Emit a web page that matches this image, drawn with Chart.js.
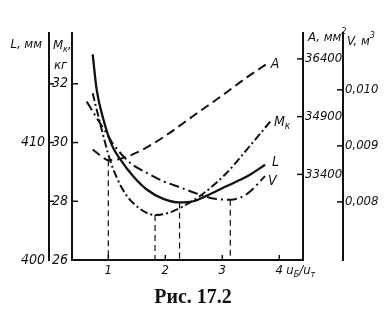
<!DOCTYPE html>
<html>
<head>
<meta charset="utf-8">
<script src="https://cdn.jsdelivr.net/npm/chart.js@4.4.1/dist/chart.umd.min.js"></script>
<style>
  html, body { margin: 0; padding: 0; background: #fff; }
</style>
</head>
<body>
<canvas id="myChart" width="386" height="323"></canvas>
<script>
// Ratio u_Б/u_т on the horizontal axis
const xTicks = [1, 2, 3, 4];

// A, мм² (dashed)
const xA = [0.726, 0.912, 1.0, 1.2, 1.4, 1.65, 2.0, 2.5, 3.0, 3.43, 3.78];
const valA = [34047, 33832, 33770, 33800, 33900, 34080, 34400, 34930, 35450, 35920, 36270];

// Mк, кг (dash-dot)
const xMk = [0.726, 0.884, 1.03, 1.15, 1.3, 1.55, 1.82, 2.08, 2.433, 2.61, 3.08, 3.43, 3.87];
const valMk = [31.68, 30.44, 29.4, 28.8, 28.25, 27.75, 27.53, 27.62, 27.96, 28.18, 28.97, 29.76, 30.78];

// L, мм (solid)
const xL = [0.726, 0.796, 0.912, 1.06, 1.205, 1.44, 1.674, 1.965, 2.25, 2.49, 2.784, 3.08, 3.43, 3.75];
const valL = [417.5, 414.5, 412.0, 409.8, 408.6, 407.1, 406.0, 405.2, 404.9, 405.0, 405.6, 406.3, 407.1, 408.1];

// V, м³ (dash-dot)
const xV = [0.621, 0.796, 0.942, 1.088, 1.38, 1.674, 1.965, 2.258, 2.61, 2.84, 3.14, 3.43, 3.75];
const valV = [0.00979, 0.00950, 0.00927, 0.00903, 0.00870, 0.00852, 0.00837, 0.00826, 0.00813, 0.00806, 0.00804, 0.00814, 0.00846];

// axis ticks
const mkTicks = [26, 28, 30, 32];
const lTicks = [400, 410];
const aTicks = [33400, 34900, 36400];
const vTicks = [0.008, 0.009, 0.010];

// axis ranges (all four vertical scales share the same height)
const xMin = 0.363, xMax = 4.416;
const mkMin = 26, mkMax = 33.73;
const lMin = 400, lMax = 419.32;
const aMin = 31176, aMax = 37072;
const vMin = 0.006964, vMax = 0.011014;

const ink = '#111';
const NARROW = "'Liberation Sans Narrow', 'DejaVu Sans Condensed', sans-serif";

function toPoints(xs, ys) {
    return xs.map((x, i) => ({ x: x, y: ys[i] }));
}

// vertical dashed line from the lowest point of a curve down to the axis
function dropLine(xs, ys, axisMin, axisId) {
    let k = 0;
    ys.forEach((v, i) => { if (v < ys[k]) k = i; });
    return {
        data: [{ x: xs[k], y: ys[k] }, { x: xs[k], y: axisMin }],
        yAxisID: axisId,
        borderColor: ink,
        borderWidth: 1.2,
        borderDash: [6, 4],
        pointRadius: 0,
        isDrop: true
    };
}

function curve(name, xs, ys, axisId, dash, width) {
    return {
        label: name,
        data: toPoints(xs, ys),
        yAxisID: axisId,
        borderColor: ink,
        borderWidth: width,
        borderDash: dash,
        pointRadius: 0,
        cubicInterpolationMode: 'monotone'
    };
}

const setTicks = list => scale => { scale.ticks = list.map(v => ({ value: v })); };
const fixWidth = w => scale => { scale.width = w; };

function yAxis(pos, weight, min, max, ticks, width, size, fmt) {
    return {
        type: 'linear',
        position: pos,
        weight: weight,
        min: min,
        max: max,
        afterBuildTicks: setTicks(ticks),
        afterFit: fixWidth(width),
        grid: { display: false, drawTicks: false, tickLength: 0 },
        border: { display: true, color: ink, width: 2 },
        ticks: {
            padding: pos === 'left' ? 4 : 2,
            color: ink,
            font: { family: NARROW, size: size, style: 'italic' },
            callback: fmt
        }
    };
}

// text with optional small sub/superscript parts: [[text, 'sub'|'sup'|'']]
function richText(ctx, parts, x, y, size, align) {
    const big = 'italic ' + size + 'px ' + NARROW;
    const small = 'italic ' + Math.round(size * 0.7) + 'px ' + NARROW;
    let total = 0;
    parts.forEach(p => { ctx.font = p[1] ? small : big; total += ctx.measureText(p[0]).width; });
    let cx = align === 'right' ? x - total : x;
    ctx.textAlign = 'left';
    ctx.textBaseline = 'middle';
    parts.forEach(p => {
        ctx.font = p[1] ? small : big;
        const dy = p[1] === 'sub' ? size * 0.3 : (p[1] === 'sup' ? -size * 0.45 : 0);
        ctx.fillText(p[0], cx, y + dy);
        cx += ctx.measureText(p[0]).width;
    });
}

const decorations = {
    id: 'decorations',
    afterDraw(chart) {
        const ctx = chart.ctx;
        const s = chart.scales;
        ctx.save();
        ctx.strokeStyle = ink;
        ctx.fillStyle = ink;
        ctx.lineWidth = 1.5;
        const seg = (x1, y1, x2, y2) => { ctx.beginPath(); ctx.moveTo(x1, y1); ctx.lineTo(x2, y2); ctx.stroke(); };

        // short tick marks pointing into the plot
        s.mk.ticks.forEach(t => {
            if (t.value === mkMin) return;
            const y = s.mk.getPixelForValue(t.value);
            seg(s.mk.right, y, s.mk.right + 6, y);
            seg(s.mk.left + 1, y, s.mk.left + 5, y);
        });
        s.a.ticks.forEach(t => {
            const y = s.a.getPixelForValue(t.value);
            seg(s.a.left - 6, y, s.a.left, y);
        });
        s.v.ticks.forEach(t => {
            const y = s.v.getPixelForValue(t.value);
            seg(s.v.left - 6, y, s.v.left, y);
        });
        s.x.ticks.forEach(t => {
            const x = s.x.getPixelForValue(t.value);
            seg(x, s.x.top, x, s.x.top - 5);
        });

        // axis titles
        richText(ctx, [['L, мм', '']], s.l.right - 7, 45, 13, 'right');
        richText(ctx, [['M', ''], ['к', 'sub'], [',', '']], s.mk.left + 4, 46, 13, 'left');
        richText(ctx, [['кг', '']], s.mk.left + 5, 66, 13, 'left');
        richText(ctx, [['A, мм', ''], ['2', 'sup']], s.a.left + 5, 38, 13, 'left');
        richText(ctx, [['V, м', ''], ['3', 'sup']], s.v.left + 4, 42, 13, 'left');

        const x4 = s.x.getPixelForValue(4);
        richText(ctx, [['u', ''], ['Б', 'sub'], ['/u', ''], ['т', 'sub']], x4 + 7, s.x.top + 11, 13, 'left');

        // curve names next to their right ends
        const names = {
            'A': [[['A', '']], 4, 0],
            'Mk': [[['M', ''], ['к', 'sub']], 2, 3],
            'L': [[['L', '']], 7, -2],
            'V': [[['V', '']], 3, 5]
        };
        chart.data.datasets.forEach((ds, i) => {
            if (ds.isDrop) return;
            const pts = chart.getDatasetMeta(i).data;
            const end = pts[pts.length - 1];
            const n = names[ds.label];
            richText(ctx, n[0], end.x + n[1], end.y + n[2], 14, 'left');
        });
        ctx.restore();
    }
};

const ctx = document.getElementById('myChart').getContext('2d');
const chart = new Chart(ctx, {
    type: 'line',
    data: {
        datasets: [
            curve('A', xA, valA, 'a', [9, 5], 2),
            curve('Mk', xMk, valMk, 'mk', [8, 3, 2, 3], 2),
            curve('L', xL, valL, 'l', [], 2.3),
            curve('V', xV, valV, 'v', [10, 4, 2, 4], 2),
            dropLine(xA, valA, aMin, 'a'),
            dropLine(xMk, valMk, mkMin, 'mk'),
            dropLine(xL, valL, lMin, 'l'),
            dropLine(xV, valV, vMin, 'v')
        ]
    },
    options: {
        responsive: false,
        animation: false,
        events: [],
        layout: { autoPadding: false, padding: { top: 33, left: 0, right: 0, bottom: 5 } },
        plugins: {
            legend: { display: false },
            tooltip: { enabled: false },
            title: {
                display: true,
                position: 'bottom',
                text: 'Рис. 17.2',
                color: ink,
                font: { family: "'Liberation Serif', 'DejaVu Serif', serif", size: 20, weight: 'bold' },
                padding: { top: 6, bottom: 8 }
            }
        },
        scales: {
            x: {
                type: 'linear',
                min: xMin,
                max: xMax,
                afterBuildTicks: setTicks(xTicks),
                afterFit: scale => { scale.height = 20; },
                grid: { display: false, drawTicks: false, tickLength: 0 },
                border: { display: true, color: ink, width: 2 },
                ticks: {
                    padding: 3,
                    color: ink,
                    font: { family: NARROW, size: 13, style: 'italic' }
                }
            },
            mk: yAxis('left', 0, mkMin, mkMax, mkTicks, 23, 14, v => String(v)),
            l: yAxis('left', 1, lMin, lMax, lTicks, 49, 14, v => String(v)),
            a: yAxis('right', 0, aMin, aMax, aTicks, 40, 13, v => String(v)),
            v: yAxis('right', 1, vMin, vMax, vTicks, 43, 13, v => v.toFixed(3).replace('.', ','))
        }
    },
    plugins: [decorations]
});
</script>
</body>
</html>
